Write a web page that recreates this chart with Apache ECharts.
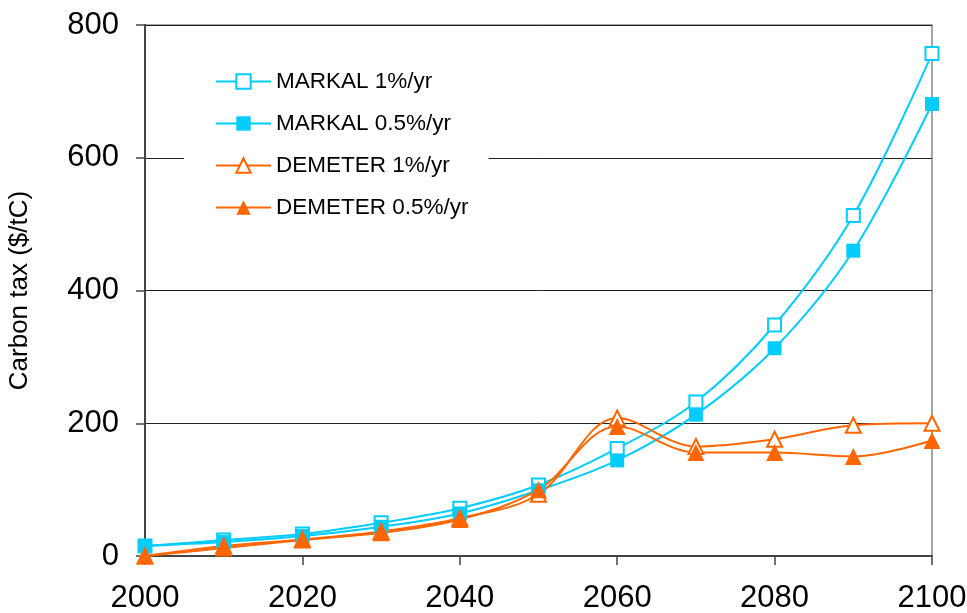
<!DOCTYPE html>
<html><head><meta charset="utf-8">
<script src="https://cdn.jsdelivr.net/npm/echarts@6/dist/echarts.min.js"></script>
<style>html,body{margin:0;padding:0;background:#fff}#c{width:967px;height:613px}</style>
</head><body><div id="c"></div>
<script>
const years = [2000, 2010, 2020, 2030, 2040, 2050, 2060, 2070, 2080, 2090, 2100];
const markal1 = [15, 24, 33, 50, 72, 107, 162, 232, 348, 513, 757];
const markal05 = [15, 21, 30, 44, 64, 99, 144, 213, 313, 460, 681];
const demeter1 = [0, 15, 25, 37, 57, 93, 208, 165, 176, 197, 200];
const demeter05 = [0, 12, 24, 35, 55, 100, 195, 156, 156, 150, 174];
const xTicks = [2000, 2020, 2040, 2060, 2080, 2100];
const yTicks = [0, 200, 400, 600, 800];
const names = ['MARKAL 1%/yr', 'MARKAL 0.5%/yr', 'DEMETER 1%/yr', 'DEMETER 0.5%/yr'];

const CYAN = '#00CCFF', ORANGE = '#FF6600';
const font = 'Liberation Sans, Arial, sans-serif';
function pairs(v) { return years.map((y, i) => [y, v[i]]); }
function ser(name, vals, color, symbol, hollow, size) {
  return {
    name, type: 'line', smooth: 0.35, data: pairs(vals),
    symbol, symbolSize: size, showAllSymbol: true,
    lineStyle: { color, width: 2 },
    itemStyle: hollow ? { color: '#fff', borderColor: color, borderWidth: 2 } : { color, borderColor: color, borderWidth: 0 },
    emphasis: { disabled: true }, z: 3
  };
}
const chart = echarts.init(document.getElementById('c'), null, { renderer: 'canvas' });
chart.setOption({
  animation: false,
  backgroundColor: '#fff',
  grid: { left: 145, right: 35, top: 25, bottom: 57, containLabel: false, outerBoundsMode: 'none',
    show: true, borderColor: '#888', borderWidth: 1.5, backgroundColor: 'transparent' },
  legend: {
    data: names, orient: 'vertical', left: 184, top: 52,
    padding: [18, 20, 18, 31], backgroundColor: '#fff',
    itemWidth: 55, itemHeight: 18, itemGap: 19,
    textStyle: { fontFamily: font, fontSize: 22.5, color: '#000' },
    selectedMode: false
  },
  xAxis: {
    type: 'value', min: 2000, max: 2100, interval: 20,
    axisLine: { show: true, lineStyle: { color: '#444', width: 2 } },
    axisTick: { show: true, length: 9, lineStyle: { color: '#444', width: 1.5 } },
    axisLabel: { fontFamily: font, fontSize: 31, color: '#000', margin: 27,
      formatter: v => xTicks.includes(v) ? String(v) : '' },
    splitLine: { show: false }
  },
  yAxis: {
    type: 'value', min: 0, max: 800, interval: 200,
    name: 'Carbon tax ($/tC)', nameLocation: 'middle', nameGap: 112, nameRotate: 90,
    nameTextStyle: { fontFamily: font, fontSize: 26, color: '#000' },
    axisLine: { show: true, lineStyle: { color: '#444', width: 2 } },
    axisTick: { show: true, length: 9, lineStyle: { color: '#444', width: 1.5 } },
    axisLabel: { fontFamily: font, fontSize: 31, color: '#000', margin: 26,
      formatter: v => yTicks.includes(v) ? String(v) : '' },
    splitLine: { show: true, lineStyle: { color: '#222', width: 1 } }
  },
  series: [
    ser(names[0], markal1, CYAN, 'rect', true, 13),
    ser(names[1], markal05, CYAN, 'rect', false, 14),
    ser(names[2], demeter1, ORANGE, 'triangle', true, 15),
    ser(names[3], demeter05, ORANGE, 'triangle', false, 17)
  ]
});
</script></body></html>
